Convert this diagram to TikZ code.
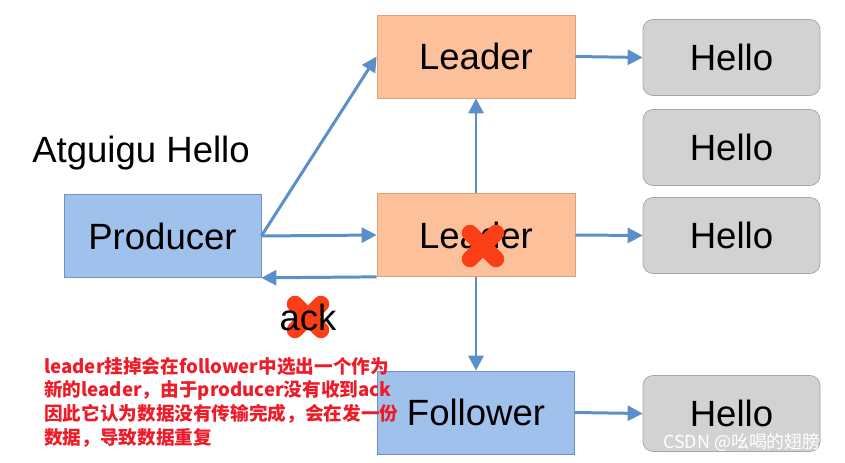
\documentclass[tikz,border=0pt]{standalone}
\usepackage{fontspec}
\setmainfont{Liberation Sans}
\newfontfamily\cjk{Noto Sans CJK SC}
\usetikzlibrary{arrows.meta}
\definecolor{leadfill}{RGB}{252,192,154}
\definecolor{leaddraw}{RGB}{226,160,112}
\definecolor{prodfill}{RGB}{160,193,236}
\definecolor{proddraw}{RGB}{110,146,200}
\definecolor{hellofill}{RGB}{210,210,210}
\definecolor{hellodraw}{RGB}{165,165,165}
\definecolor{linkblue}{RGB}{91,143,201}
\definecolor{crossred}{RGB}{250,62,22}
\definecolor{notered}{RGB}{238,28,40}
\begin{document}
\begin{tikzpicture}[x=0.2mm, y=-0.2mm,
    every node/.style={font=\fontsize{20.8}{24}\selectfont},
    leadbox/.style={draw=leaddraw, fill=leadfill, minimum width=39.6mm, minimum height=16.6mm},
    prodbox/.style={draw=proddraw, fill=prodfill, minimum width=39.4mm, minimum height=16.6mm},
    hellobox/.style={draw=hellodraw, fill=hellofill, rounded corners=2mm, minimum width=35.4mm, minimum height=15.2mm},
    link/.style={draw=linkblue, line width=1.7pt, -{Triangle[length=3mm,width=3mm]}},
    cross/.style={draw=crossred, line width=3.3mm, line cap=round}]
    \useasboundingbox (0,0) rectangle (845,462);

    % brokers
    \node[leadbox] (lead1) at (476,56.5) {Leader};
    \node[leadbox] (lead2) at (476,235) {Leader};
    \node[prodbox] (foll) at (476,412.5) {Follower};
    \node[prodbox] (prod) at (162.5,236) {Producer};
    \node (title) at (141,153) {Atguigu Hello};

    % messages
    \node[hellobox] (h1) at (731.5,57.5) {Hello};
    \node[hellobox] (h2) at (731.5,147.5) {Hello};
    \node[hellobox] (h3) at (731.5,235.5) {Hello};
    \node[hellobox] (h4) at (731.5,413.5) {Hello};

    \draw[link] (prod.east) -- (lead1.west);
    \draw[link] (prod.east) -- (lead2.west);
    \draw[link] (lead2.south west) -- (prod.south east);
    \draw[link] (lead2.north) -- (lead1.south);
    \draw[link] (lead2.south) -- (foll.north);
    \draw[link] (lead1.east) -- (h1.west);
    \draw[link] (lead2.east) -- (h3.west);
    \draw[link] (foll.east) -- (h4.west);

    % failed leader and lost ack
    \draw[cross] (470,233) -- (496,259) (496,233) -- (470,259);
    \node (ack) at (308,317) {};
    \draw[cross] (295,304) -- (321,330) (321,304) -- (295,330);
    \node at (ack) {ack};

    \node[anchor=north west, inner sep=0pt, align=left, text=notered,
      font=\cjk\bfseries\fontsize{10.6}{13.4}\selectfont] (note) at (44,357)
      {leader挂掉会在follower中选出一个作为\\
       新的leader，由于producer没有收到ack\\
       因此它认为数据没有传输完成，会在发一份\\
       数据，导致数据重复};

    \node[text=white, font=\cjk\fontsize{10.2}{12}\selectfont] (mark) at (742,442) {CSDN @吆喝的翅膀};
\end{tikzpicture}
\end{document}
